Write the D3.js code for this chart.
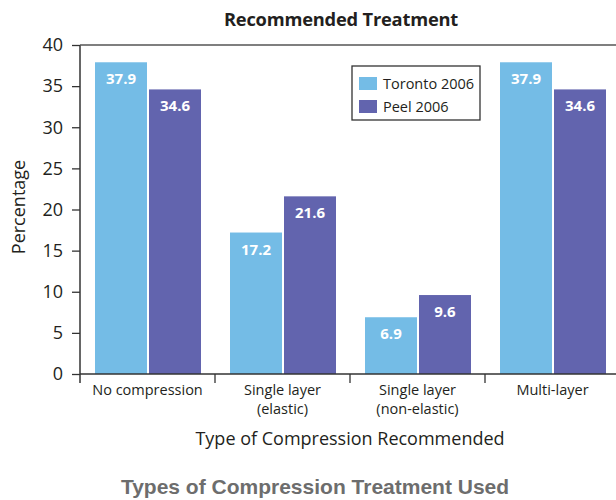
<!DOCTYPE html>
<html>
<head>
<meta charset="utf-8">
<script src="https://cdn.jsdelivr.net/npm/d3@7"></script>
<style>
  html, body { margin: 0; padding: 0; background: #fff; }
  svg { display: block; }
</style>
</head>
<body>
<svg id="chart" width="616" height="500"></svg>
<script>
// Compression types recommended, by region (percent of clients)
const categories = [
  ["No compression"],
  ["Single layer", "(elastic)"],
  ["Single layer", "(non-elastic)"],
  ["Multi-layer"]
];
const seriesNames = ["Toronto 2006", "Peel 2006"];
const toronto = [37.9, 17.2, 6.9, 37.9];
const peel = [34.6, 21.6, 9.6, 34.6];
const yTicks = [0, 5, 10, 15, 20, 25, 30, 35, 40];
const colors = ["#74bce6", "#6264ae"];

const values = [toronto, peel];
const catKeys = categories.map(c => c.join(" "));

const svg = d3.select("#chart");
const font = "'Open Sans', 'Noto Sans', sans-serif";
const axisColor = "#333";
const textColor = "#231f20";

const plotLeft = 80, plotRight = 620, plotTop = 45, plotBottom = 374;

const x0 = d3.scaleBand().domain(catKeys).range([plotLeft, plotRight]).padding(0);
const x1 = d3.scaleBand().domain(seriesNames)
  .range([15, x0.bandwidth() - 14]).paddingInner(0.037).paddingOuter(0);
const y = d3.scaleLinear().domain([0, 40]).range([plotBottom, plotTop]);

// bars with value labels inside the top
const g = svg.append("g");
catKeys.forEach((key, ci) => {
  seriesNames.forEach((s, si) => {
    const v = values[si][ci];
    const bx = x0(key) + x1(s);
    g.append("rect")
      .attr("x", bx).attr("y", y(v))
      .attr("width", x1.bandwidth()).attr("height", y(0) - y(v))
      .attr("fill", colors[si]);
    g.append("text")
      .attr("x", bx + x1.bandwidth() / 2).attr("y", y(v) + 22)
      .attr("text-anchor", "middle")
      .attr("font-family", font).attr("font-weight", 700)
      .attr("font-size", 15).attr("fill", "#fff")
      .text(v.toFixed(1));
  });
});

// y axis
const yAxis = d3.axisLeft(y).tickValues(yTicks).tickSize(8).tickPadding(9);
const ya = svg.append("g").attr("transform", `translate(${plotLeft},0)`).call(yAxis);
ya.select(".domain").remove();
ya.selectAll(".tick line").attr("stroke", axisColor).attr("stroke-width", 1.3);
ya.selectAll(".tick text").attr("font-family", font).attr("font-size", 18)
  .attr("fill", textColor);

// frame lines: left axis, top border, baseline
svg.append("line").attr("x1", plotLeft).attr("x2", plotLeft).attr("y1", plotTop).attr("y2", plotBottom + 9)
  .attr("stroke", axisColor).attr("stroke-width", 1.5);
svg.append("line").attr("x1", plotLeft).attr("x2", plotRight).attr("y1", plotTop).attr("y2", plotTop)
  .attr("stroke", "#555").attr("stroke-width", 1.3);
svg.append("line").attr("x1", plotLeft).attr("x2", plotRight).attr("y1", plotBottom).attr("y2", plotBottom)
  .attr("stroke", axisColor).attr("stroke-width", 1.5);

// category boundary ticks
catKeys.slice(1).forEach(key => {
  svg.append("line").attr("x1", x0(key)).attr("x2", x0(key))
    .attr("y1", plotBottom).attr("y2", plotBottom + 9)
    .attr("stroke", axisColor).attr("stroke-width", 1.3);
});

// category labels, one text per line
categories.forEach((lines, ci) => {
  const cx = x0(catKeys[ci]) + x0.bandwidth() / 2;
  lines.forEach((ln, li) => {
    svg.append("text").attr("x", cx).attr("y", 395 + li * 19)
      .attr("text-anchor", "middle").attr("font-family", font)
      .attr("font-size", 14.5).attr("fill", textColor).text(ln);
  });
});

// titles
svg.append("text").attr("x", 341).attr("y", 26).attr("text-anchor", "middle")
  .attr("font-family", font).attr("font-weight", 700).attr("font-size", 18.3)
  .attr("letter-spacing", -0.2)
  .attr("fill", textColor).text("Recommended Treatment");

svg.append("text").attr("transform", "translate(25,207) rotate(-90)")
  .attr("text-anchor", "middle").attr("font-family", font).attr("font-size", 18)
  .attr("fill", textColor).text("Percentage");

svg.append("text").attr("x", 350).attr("y", 445).attr("text-anchor", "middle")
  .attr("font-family", font).attr("font-size", 18).attr("fill", textColor)
  .text("Type of Compression Recommended");

svg.append("text").attr("x", 315).attr("y", 494).attr("text-anchor", "middle")
  .attr("font-family", "'Liberation Sans', Arial, sans-serif").attr("font-weight", 700)
  .attr("font-size", 21).attr("fill", "#6d6d6d")
  .text("Types of Compression Treatment Used");

// legend
const lg = svg.append("g").attr("transform", "translate(352,66)");
lg.append("rect").attr("width", 128).attr("height", 54)
  .attr("fill", "#fff").attr("stroke", "#333").attr("stroke-width", 1.3);
seriesNames.forEach((s, i) => {
  lg.append("rect").attr("x", 7).attr("y", 11 + i * 23).attr("width", 18).attr("height", 13)
    .attr("fill", colors[i]);
  lg.append("text").attr("x", 31).attr("y", 23 + i * 23)
    .attr("font-family", font).attr("font-size", 14.5).attr("fill", textColor).text(s);
});
</script>
</body>
</html>
